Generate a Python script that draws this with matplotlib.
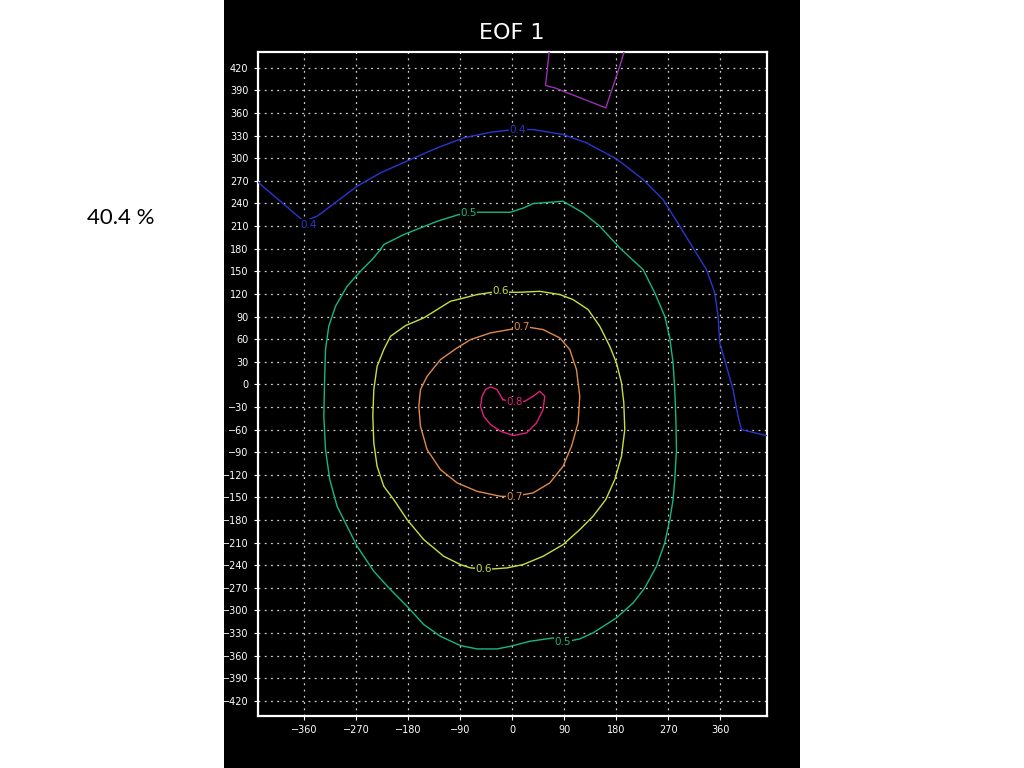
import matplotlib
matplotlib.use("Agg")
import matplotlib.pyplot as plt
from matplotlib.patches import Rectangle

# ---- data ----
title = "EOF 1"
explained = "40.4 %"
xticks = [-360, -270, -180, -90, 0, 90, 180, 270, 360]
yticks = list(range(-420, 421, 30))

# contour 0.3 (purple, top)
c03_x = [63.7, 57.5, 73.6, 161.8, 186.0, 193.0]
c03_y = [440, 396.5, 393.4, 366.9, 422.0, 440]

# contour 0.4 (blue)
c04_x = [-440, -360.9, -337.8, -268.6, -228.1, -176.2, -130.1, -83.9, -37.7, 2.6, 36,
         87.9, 128.4, 180.3, 226.4, 261, 289.9, 312.9, 336.1, 350.5, 356.2, 359.1,
         370.7, 382.1, 390.8, 396.7, 440]
c04_y = [268.2, 216.4, 223.1, 262.9, 280.7, 298.3, 313.8, 327.1, 334.5, 338.1, 338.1,
         331.5, 320.5, 299.2, 271.8, 245.2, 209.8, 181.1, 152.3, 121.4, 90.4, 55.1,
         24, -6.9, -42.3, -60, -68]

# contour 0.5 (green, closed)
c05_x = [-228.1, -222.4, -187.8, -130.1, -92.6, -75.3, -58, -3.1, 19.9, 36, 87.9, 122.5,
         151.4, 186, 226.4, 246.6, 263.9, 272.6, 278.3, 281.2, 283, 284.2, 281.2, 278.3,
         272.6, 263.9, 249.6, 229.3, 209.1, 180.3, 139.8, 116.8, 87.9, 70.6, 59.2, 30.3,
         -3.1, -26.3, -60.9, -89.7, -124.3, -153.2, -182.1, -210.8, -239.7, -268.6,
         -285.9, -303.2, -315.9, -323.3, -326.2, -325, -323.3, -317.6, -306, -285.9,
         -260, -242.6, -228.1]
c05_y = [178.9, 185.5, 198.8, 216.4, 225.3, 227.6, 228.4, 228.4, 234.2, 239.9, 243, 227.6,
         209.8, 181.1, 152.3, 121.4, 90.4, 61.7, 28.5, -6.9, -42.3, -86.5, -126.3, -152.9,
         -179.4, -210.3, -241.4, -270, -290, -309.8, -329.7, -337.7, -342.2, -336.4,
         -337.7, -340.9, -347.5, -351, -351, -346.6, -334.3, -318.7, -294.5, -272.3,
         -248, -214.8, -188.3, -161.8, -126.3, -86.5, -42.3, 2, 46.2, 77.1, 103.6,
         130.2, 152.3, 165.6, 178.9]

# contour 0.6 (yellow-green, closed)
c06_x = [-20.4, -35, -60.9, -89.7, -107, -153.2, -184.8, -210.8, -222.4, -234, -239.7,
         -241.4, -239.7, -234, -222.4, -205.1, -182.1, -153.2, -118.6, -89.7, -72.3,
         -49.3, -32, -9, 18.7, 53.3, 87.9, 116.8, 139.8, 161.8, 177.4, 189, 194.7, 193,
         189, 180.3, 168.7, 151.4, 131.2, 105.2, 82.2, 47.6, 13, -10, -20.4]
c06_y = [123.5, 122.2, 119.2, 113.5, 110.3, 88.2, 78, 63.8, 46.2, 24, -6.9, -42.3, -77.6,
         -108.7, -135.2, -152.9, -179.4, -206, -228.1, -239.1, -243.5, -244.8, -244.8,
         -243.5, -239.1, -228.1, -212.6, -192.7, -175, -152.9, -126.3, -95.4, -60, -24.5,
         2, 28.5, 50.6, 77.1, 99.3, 112.5, 119.2, 123.5, 122.2, 122.2, 123.5]

# contour 0.7 (orange, closed)
c07_x = [1.4, -37.7, -72.3, -95.5, -124.3, -147.5, -158.9, -161.8, -158.9, -147.5, -124.3,
         -95.5, -60.9, -20.4, 0.9, 36, 64.9, 87.9, 102.5, 113.9, 116.8, 111.1, 99.5, 82.2,
         53.3, 24.6, 1.4]
c07_y = [73.6, 68.3, 59.4, 48.4, 32.9, 10.7, -6.9, -29.1, -55.6, -86.5, -113.1, -130.7,
         -141.9, -148.5, -148.9, -144, -130.7, -108.7, -82.1, -51.1, -15.8, 19.6, 46.2,
         61.7, 72.7, 76.3, 73.6]

# contour 0.8 (magenta)
c08_x = [-16.4, -26.3, -37.7, -46.4, -52.3, -55, -49.3, -37.7, -20.4, 2.6, 24.6, 41.9,
         53.3, 56.2, 47.6, 36, 21.6, 4.3, -16.4]
c08_y = [-20.2, -6.9, -3.3, -6.9, -15.8, -29.1, -42.3, -53.3, -62.2, -67.9, -64.4, -51.1,
         -33.4, -15.8, -9.2, -15.8, -22.4, -23.8, -20.2]

levels = ["0.3", "0.4", "0.5", "0.6", "0.7", "0.8"]
colors = ["#9a2fb4", "#2a36d0", "#16b882", "#c4e040", "#e08a48", "#e0207a"]
curves = [(c03_x, c03_y), (c04_x, c04_y), (c05_x, c05_y),
          (c06_x, c06_y), (c07_x, c07_y), (c08_x, c08_y)]

# label positions (data units) per level
label_pos = {
    "0.4": [(-352, 212), (10, 338)],
    "0.5": [(-75.3, 227.6), (87.9, -342.2)],
    "0.6": [(-20.4, 123.5), (-49.3, -244.8)],
    "0.7": [(16, 75.5), (4, -149)],
    "0.8": [(4.3, -23.8)],
}

fig = plt.figure(figsize=(10.24, 7.68), dpi=100)
fig.patch.set_facecolor("white")
fig.patches.append(Rectangle((224 / 1024, 0), 576 / 1024, 1, transform=fig.transFigure,
                             facecolor="black", edgecolor="none", zorder=-10))

ax = fig.add_axes([257.5 / 1024, 1 - 716 / 768, 509 / 1024, 664 / 768])
ax.set_zorder(5)
ax.set_facecolor("black")
ax.set_xlim(-441, 440)
ax.set_ylim(-440, 441)

ax.set_xticks(xticks)
ax.set_xticklabels([str(v).replace("-", "\u2212") for v in xticks])
ax.set_yticks(yticks)
ax.set_yticklabels([str(v).replace("-", "\u2212") for v in yticks])
ax.tick_params(colors="white", labelsize=7, length=3, width=0.8, direction="out")
for s in ax.spines.values():
    s.set_color("white")
    s.set_linewidth(1.6)
ax.grid(True, color="#cfcfcf", linestyle=(0, (1.5, 3.5)), linewidth=0.9)
ax.set_axisbelow(True)

for lev, col, (xs, ys) in zip(levels, colors, curves):
    ax.plot(xs, ys, color=col, linewidth=1.0, zorder=3)
    for (lx, ly) in label_pos.get(lev, []):
        ax.text(lx, ly, lev, color=col, fontsize=7.5, ha="center", va="center", zorder=4,
                bbox=dict(facecolor="black", edgecolor="none", pad=0.3))

fig.text(512 / 1024, 1 - 33 / 768, title, color="white", fontsize=16,
         ha="center", va="center", zorder=10)
fig.text(121 / 1024, 1 - 218 / 768, explained, color="black", fontsize=16,
         ha="center", va="center", family="Lato", zorder=10)

fig.savefig("out.png", dpi=100)
